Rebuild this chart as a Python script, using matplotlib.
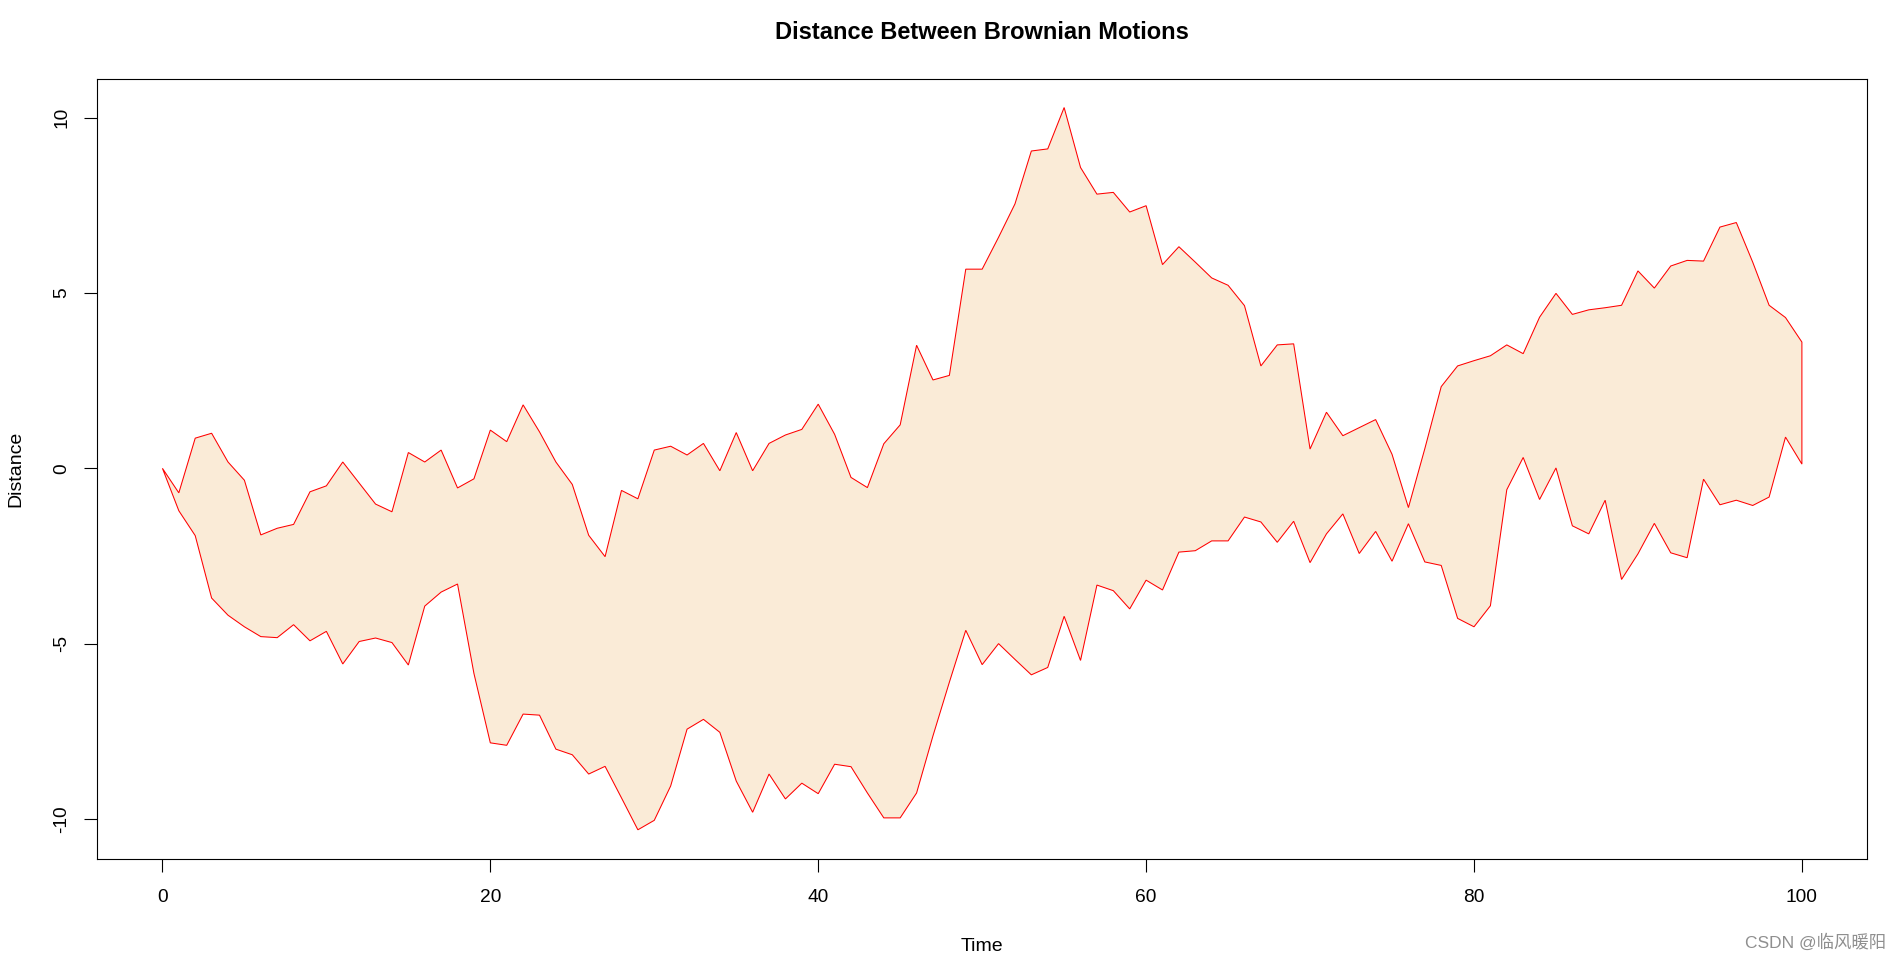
import matplotlib
matplotlib.use('Agg')
import matplotlib.pyplot as plt
import numpy as np

time = np.arange(0, 101)

upper = [0.00, -0.70, 0.86, 1.00, 0.18, -0.34, -1.90, -1.71, -1.60, -0.67,
         -0.50, 0.18, -0.42, -1.02, -1.24, 0.45, 0.18, 0.52, -0.56, -0.30,
         1.09, 0.76, 1.81, 1.04, 0.18, -0.46, -1.91, -2.52, -0.63, -0.87,
         0.52, 0.63, 0.38, 0.71, -0.07, 1.02, -0.07, 0.71, 0.95, 1.11,
         1.83, 0.97, -0.26, -0.55, 0.70, 1.24, 3.51, 2.52, 2.65, 5.68,
         5.68, 6.59, 7.54, 9.05, 9.11, 10.29, 8.58, 7.82, 7.87, 7.31,
         7.49, 5.81, 6.32, 5.88, 5.43, 5.22, 4.64, 2.92, 3.52, 3.55,
         0.55, 1.60, 0.93, 1.16, 1.39, 0.40, -1.12, 0.56, 2.33, 2.92,
         3.07, 3.21, 3.52, 3.27, 4.31, 4.99, 4.39, 4.52, 4.58, 4.65,
         5.63, 5.14, 5.77, 5.93, 5.91, 6.88, 7.01, 5.88, 4.65, 4.30,
         3.60]

lower = [0.00, -1.21, -1.92, -3.70, -4.19, -4.52, -4.80, -4.83, -4.46, -4.92,
         -4.65, -5.58, -4.94, -4.84, -4.97, -5.61, -3.93, -3.53, -3.30, -5.85,
         -7.83, -7.90, -7.01, -7.04, -8.01, -8.17, -8.72, -8.50, -9.40, -10.31,
         -10.04, -9.06, -7.44, -7.16, -7.53, -8.92, -9.81, -8.72, -9.43, -8.98,
         -9.28, -8.44, -8.51, -9.26, -9.97, -9.97, -9.26, -7.63, -6.10, -4.62,
         -5.60, -5.00, -5.45, -5.89, -5.68, -4.22, -5.48, -3.33, -3.49, -4.01,
         -3.19, -3.47, -2.39, -2.35, -2.07, -2.07, -1.39, -1.53, -2.11, -1.51,
         -2.69, -1.87, -1.30, -2.43, -1.80, -2.65, -1.58, -2.67, -2.77, -4.28,
         -4.52, -3.92, -0.61, 0.31, -0.89, 0.01, -1.64, -1.87, -0.91, -3.17,
         -2.44, -1.57, -2.41, -2.55, -0.31, -1.04, -0.91, -1.06, -0.82, 0.89,
         0.12]

x_ticks = [0, 20, 40, 60, 80, 100]
y_ticks = [-10, -5, 0, 5, 10]

plt.rcParams['font.family'] = ['Liberation Sans', 'DejaVu Sans']
plt.rcParams['axes.unicode_minus'] = False

fig = plt.figure(figsize=(18.99, 9.59), dpi=100)
ax = fig.add_axes([0.051, 0.1046, 0.9324, 0.8134])

# Многоугольник между двумя траекториями
poly_x = np.concatenate([time, time[::-1]])
poly_y = np.concatenate([upper, lower[::-1]])
ax.fill(poly_x, poly_y, facecolor='#FAEBD7', edgecolor='red', linewidth=0.75)

# Границы как в R (расширение на 4%)
ax.set_xlim(-4, 104)
ymin, ymax = min(lower), max(upper)
span = ymax - ymin
ax.set_ylim(ymin - 0.04 * span, ymax + 0.04 * span)

ax.set_xticks(x_ticks)
ax.set_yticks(y_ticks)
ax.set_yticklabels([str(v) for v in y_ticks], rotation=90, va='center')
ax.tick_params(direction='out', length=9.4, width=0.8, labelsize=13.8)
ax.tick_params(axis='x', pad=12.3)
ax.tick_params(axis='y', pad=9.7)

for s in ax.spines.values():
    s.set_linewidth(0.8)
    s.set_color('black')

ax.set_title('Distance Between Brownian Motions', fontsize=17, fontweight='bold', pad=28.7)
ax.set_xlabel('Time', fontsize=14, labelpad=23)
ax.set_ylabel('Distance', fontsize=14, labelpad=20.5)

fig.text(0.993, 0.009, 'CSDN @临风暖阳', ha='right', va='bottom', fontsize=12.5,
         color='#8f8f8f', family=['Liberation Sans', 'Noto Sans CJK SC'])

plt.savefig('out.png', dpi=100)
